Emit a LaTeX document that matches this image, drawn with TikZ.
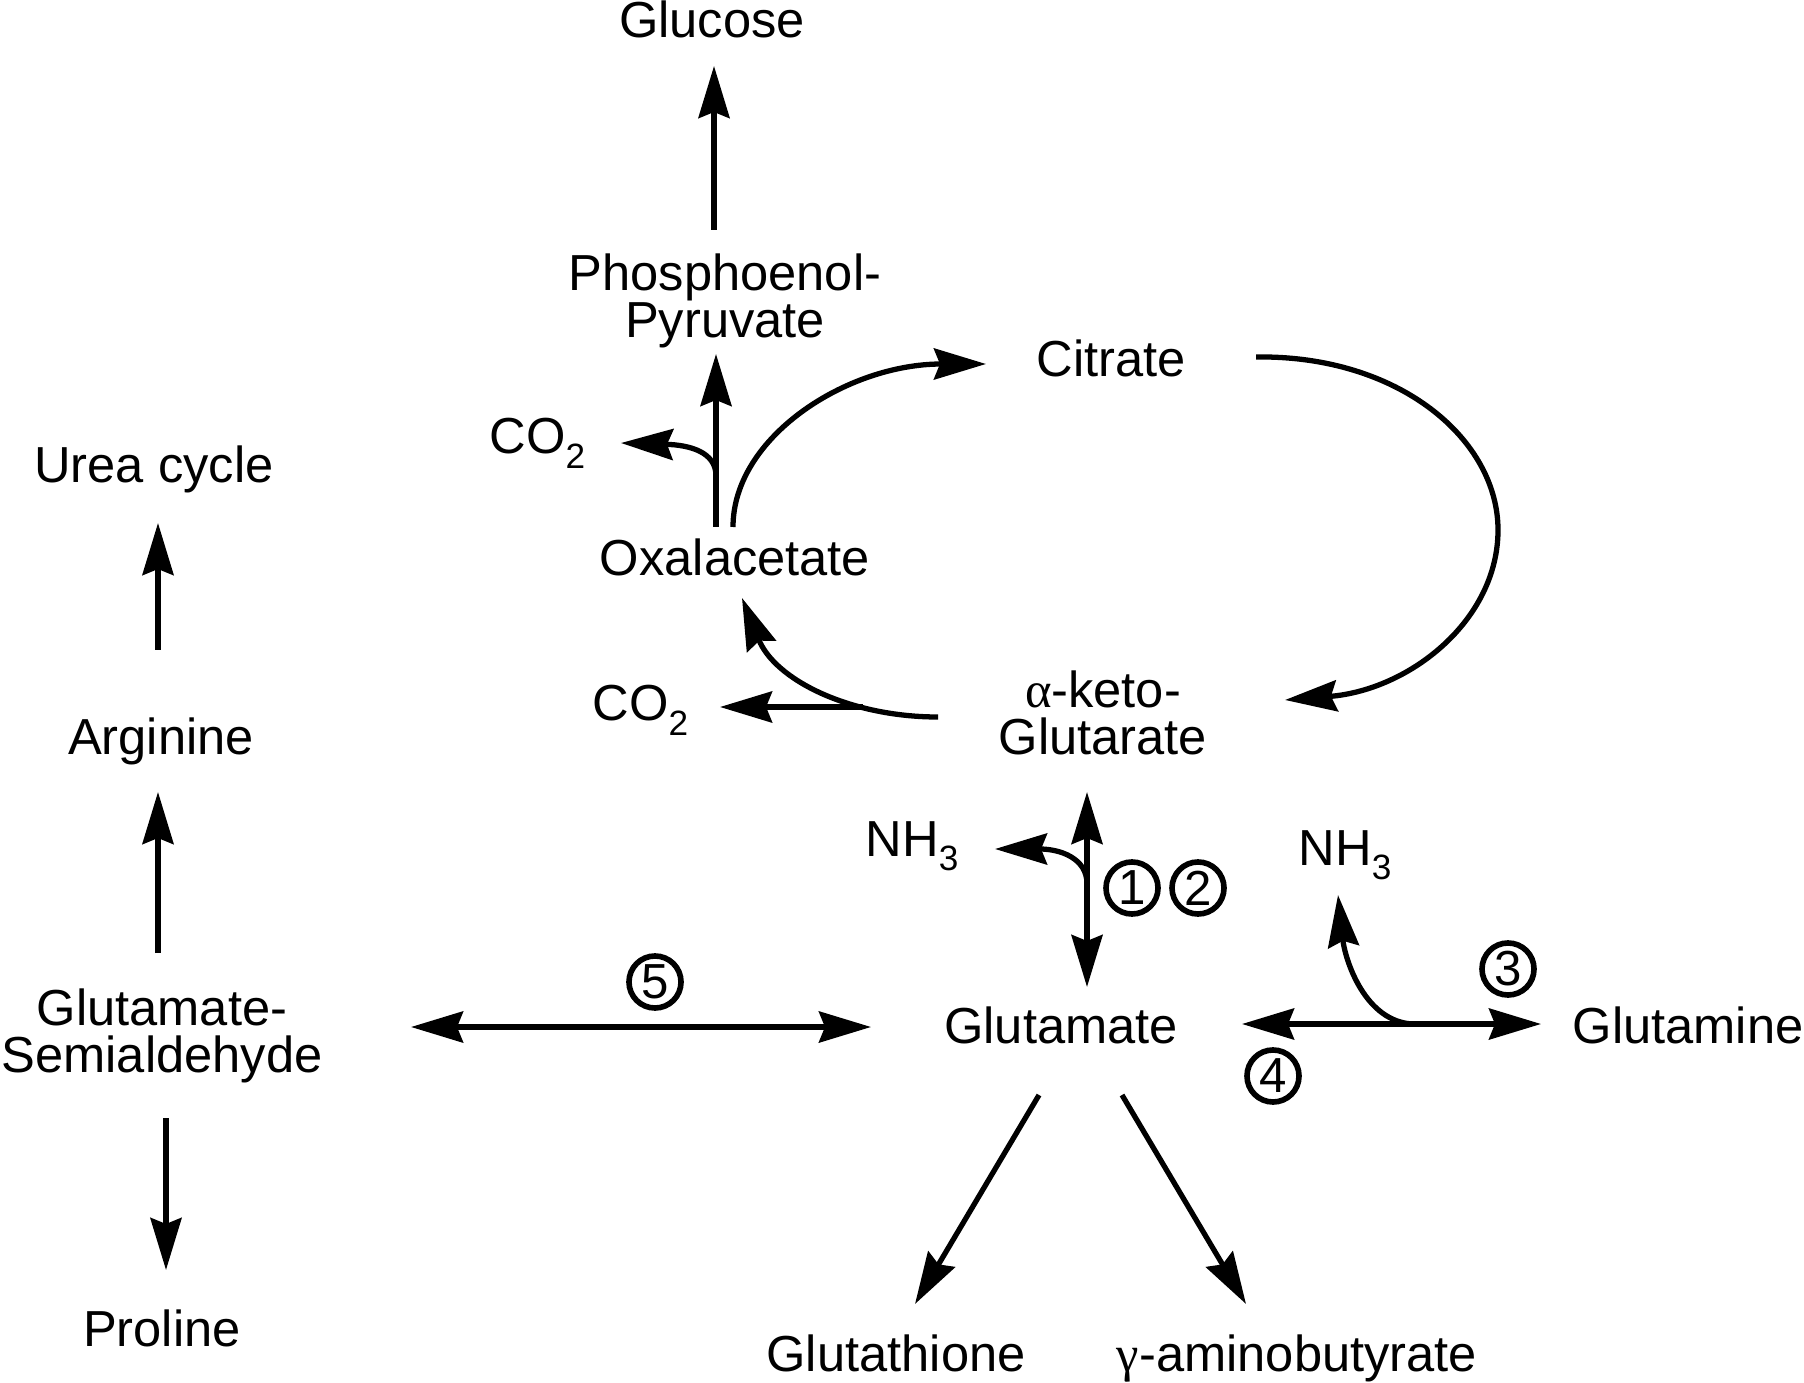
\documentclass[tikz,border=0pt]{standalone}
\usepackage{fontspec}
\setmainfont{Liberation Sans}
\newfontfamily\grk{Liberation Serif}
\usetikzlibrary{arrows.meta}
\newcommand\subx[1]{\raisebox{-4pt}{\fontsize{10}{10}\selectfont #1}}
\newcommand\tightlines{\lineskiplimit=-20pt\relax}
\begin{document}
\begin{tikzpicture}[x=0.01cm,y=-0.01cm,
  >={Stealth[length=0.52cm,width=0.31cm,inset=0.06cm]},
  lbl/.style={inner sep=0pt,font=\fontsize{14.4}{13.2}\selectfont},
  mlbl/.style={inner sep=0pt,align=center,font=\fontsize{14.4}{13.2}\selectfont\tightlines},
  flow/.style={line width=1.5pt,->},
  both/.style={line width=1.5pt,<->},
  num/.style={circle,draw,line width=1.6pt,inner sep=0pt,minimum size=0.52cm,font=\fontsize{14}{14}\selectfont}]
\useasboundingbox (0,0) rectangle (1804,1383);

% labels
\node[lbl,anchor=base] (glucose) at (712,38) {Glucose};
\node[mlbl] (pep) at (725,301) {Phosphoenol-\\Pyruvate};
\node[lbl,anchor=base] (citrate) at (1111,377) {Citrate};
\node[lbl,anchor=base west] (co2a) at (489,454) {CO\subx{2}};
\node[lbl,anchor=base] (urea) at (154,483) {Urea cycle};
\node[lbl,anchor=base] (oxa) at (735,576) {Oxalacetate};
\node[mlbl] (akg) at (1103,713) {{\grk α}-keto-\\Glutarate};
\node[lbl,anchor=base west] (co2b) at (592,721) {CO\subx{2}};
\node[lbl,anchor=base] (arg) at (161,754) {Arginine};
\node[lbl,anchor=base west] (nh3a) at (865,856) {NH\subx{3}};
\node[lbl,anchor=base west] (nh3b) at (1298,865) {NH\subx{3}};
\node[mlbl] (gsa) at (162,1036) {Glutamate-\\Semialdehyde};
\node[lbl,anchor=base] (glu) at (1061,1043) {Glutamate};
\node[lbl,anchor=base] (gln) at (1688,1043) {Glutamine};
\node[lbl,anchor=base] (pro) at (162,1346) {Proline};
\node[lbl,anchor=base] (gsh) at (896,1371) {Glutathione};
\node[lbl,anchor=base] (gaba) at (1297,1371) {{\grk γ}-aminobutyrate};

% circled numbers
\node[num] (n1) at (1132,888) {1};
\node[num] (n2) at (1198,888) {2};
\node[num] (n3) at (1508,969) {3};
\node[num] (n4) at (1273,1076) {4};
\node[num] (n5) at (655,982) {5};

% connector end points
\coordinate (glucoseIn) at (714,66);
\coordinate (pepOut) at (714,230);
\coordinate (oxaUp) at (716,527);
\coordinate (pepIn) at (716,354);
\coordinate (brA) at (716,476);
\coordinate (co2aIn) at (621,443);
\coordinate (oxaOut) at (733,527);
\coordinate (citIn) at (986,364);
\coordinate (citOut) at (1256,357);
\coordinate (citMid) at (1498,530);
\coordinate (akgIn) at (1285,700);
\coordinate (akgOut) at (938,717);
\coordinate (oxaIn) at (742,598);
\coordinate (brB) at (863,707);
\coordinate (co2bIn) at (720,707);
\coordinate (argOut) at (158,650);
\coordinate (ureaIn) at (158,523);
\coordinate (gsaUp) at (158,953);
\coordinate (argIn) at (158,792);
\coordinate (gsaDown) at (166,1118);
\coordinate (proIn) at (166,1270);
\coordinate (gsaR) at (411,1027);
\coordinate (gluL) at (871,1027);
\coordinate (akgDown) at (1087,792);
\coordinate (gluUp) at (1087,987);
\coordinate (brC) at (1087,884);
\coordinate (nh3aIn) at (995,849);
\coordinate (gluR) at (1242,1024);
\coordinate (glnL) at (1541,1024);
\coordinate (brD) at (1413,1024);
\coordinate (nh3bIn) at (1338,895);
\coordinate (gluDL) at (1039,1095);
\coordinate (gshIn) at (915,1304);
\coordinate (gluDR) at (1122,1095);
\coordinate (gabaIn) at (1246,1304);

% connectors
\draw[flow] (pepOut) -- (glucoseIn);
\draw[flow] (oxaUp) -- (pepIn);
\draw[flow] (brA) .. controls (716,452) and (690,445) .. (co2aIn);
\draw[flow] (oxaOut) .. controls (733,437) and (847,364) .. (citIn);
\draw[flow] (citOut) .. controls (1400,355) and (1498,440) .. (citMid) .. controls (1498,620) and (1410,690) .. (akgIn);
\draw[flow] (akgOut) .. controls (850,717) and (775,680) .. (oxaIn);
\draw[flow] (brB) -- (co2bIn);
\draw[flow] (argOut) -- (ureaIn);
\draw[flow] (gsaUp) -- (argIn);
\draw[flow] (gsaDown) -- (proIn);
\draw[both] (gsaR) -- (gluL);
\draw[both] (gluUp) -- (akgDown);
\draw[flow] (brC) .. controls (1087,858) and (1060,849) .. (nh3aIn);
\draw[both] (gluR) -- (glnL);
\draw[flow] (brD) .. controls (1365,1022) and (1345,960) .. (nh3bIn);
\draw[flow] (gluDL) -- (gshIn);
\draw[flow] (gluDR) -- (gabaIn);
\end{tikzpicture}
\end{document}
